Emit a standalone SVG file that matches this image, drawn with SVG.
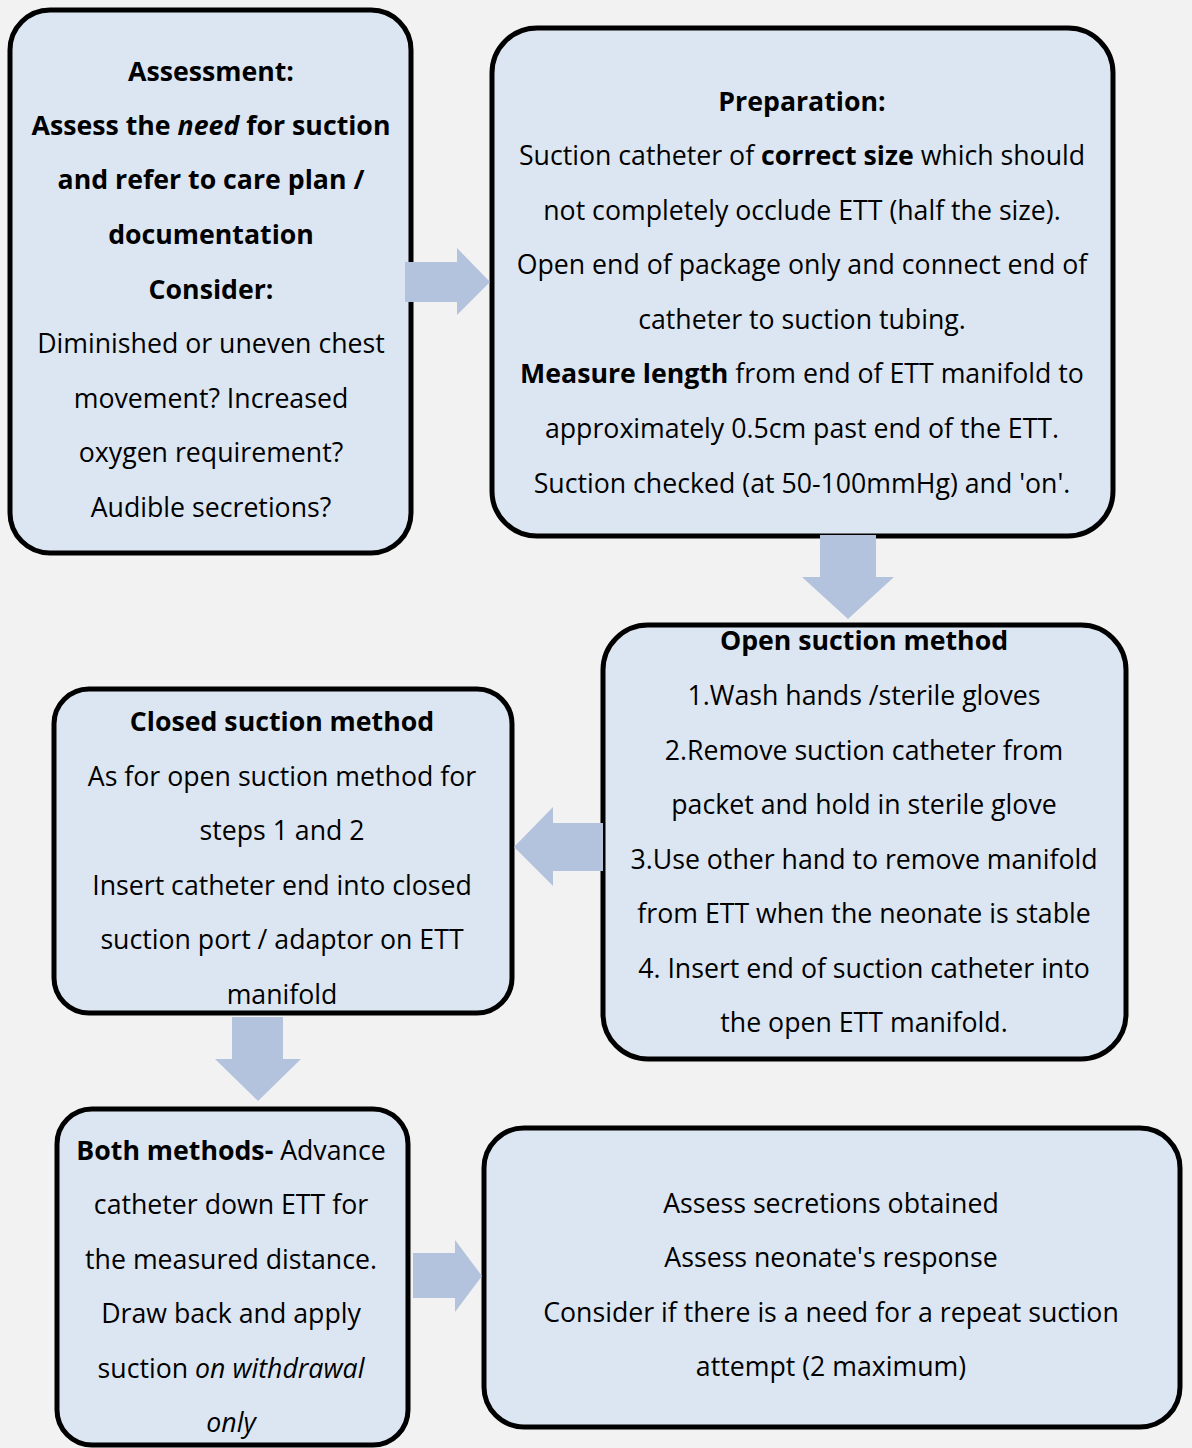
<svg xmlns="http://www.w3.org/2000/svg" width="1192" height="1448" viewBox="0 0 1192 1448">
<style>
.box{fill:#dce6f2;stroke:#000;stroke-width:5}
.arr{fill:#b3c3de}
text{font-family:"Open Sans","Noto Sans","DejaVu Sans",sans-serif;font-size:26.7px;fill:#000;text-anchor:middle}
.b{font-weight:bold}
.i{font-style:italic}
</style>
<rect width="1192" height="1448" fill="#f2f2f2"/>
<g id="assessment">
<rect class="box" x="10" y="10" width="401" height="543" rx="40"/>
<text x="211" y="81" class="b">Assessment:</text>
<text x="211" y="135" class="b">Assess the <tspan class="i">need</tspan> for suction</text>
<text x="211" y="189" class="b">and refer to care plan /</text>
<text x="211" y="244" class="b">documentation</text>
<text x="211" y="299" class="b">Consider:</text>
<text x="211" y="353">Diminished or uneven chest</text>
<text x="211" y="408">movement? Increased</text>
<text x="211" y="462">oxygen requirement?</text>
<text x="211" y="517">Audible secretions?</text>
</g>
<g id="preparation">
<rect class="box" x="492" y="28" width="621" height="508" rx="45"/>
<text x="802" y="111" class="b">Preparation:</text>
<text x="802" y="165">Suction catheter of <tspan class="b">correct size</tspan> which should</text>
<text x="802" y="220">not completely occlude ETT (half the size).</text>
<text x="802" y="274">Open end of package only and connect end of</text>
<text x="802" y="329">catheter to suction tubing.</text>
<text x="802" y="383"><tspan class="b">Measure length</tspan> from end of ETT manifold to</text>
<text x="802" y="438">approximately 0.5cm past end of the ETT.</text>
<text x="802" y="493">Suction checked (at 50-100mmHg) and 'on'.</text>
</g>
<g id="open-suction">
<rect class="box" x="603" y="625" width="523" height="434" rx="45"/>
<text x="864" y="650" class="b">Open suction method</text>
<text x="864" y="705">1.Wash hands /sterile gloves</text>
<text x="864" y="760">2.Remove suction catheter from</text>
<text x="864" y="814">packet and hold in sterile glove</text>
<text x="864" y="869">3.Use other hand to remove manifold</text>
<text x="864" y="923">from ETT when the neonate is stable</text>
<text x="864" y="978">4. Insert end of suction catheter into</text>
<text x="864" y="1032">the open ETT manifold.</text>
</g>
<g id="closed-suction">
<rect class="box" x="54" y="689" width="458" height="324" rx="35"/>
<text x="282" y="731" class="b">Closed suction method</text>
<text x="282" y="786">As for open suction method for</text>
<text x="282" y="840">steps 1 and 2</text>
<text x="282" y="895">Insert catheter end into closed</text>
<text x="282" y="949">suction port / adaptor on ETT</text>
<text x="282" y="1004">manifold</text>
</g>
<g id="both-methods">
<rect class="box" x="57" y="1109" width="351" height="336" rx="35"/>
<text x="231" y="1160"><tspan class="b">Both methods-</tspan> Advance</text>
<text x="231" y="1214">catheter down ETT for</text>
<text x="231" y="1269">the measured distance.</text>
<text x="231" y="1323">Draw back and apply</text>
<text x="231" y="1378">suction <tspan class="i">on withdrawal</tspan></text>
<text x="231" y="1432" class="i">only</text>
</g>
<g id="assess-response">
<rect class="box" x="484" y="1128" width="696" height="299" rx="40"/>
<text x="831" y="1213">Assess secretions obtained</text>
<text x="831" y="1267">Assess neonate's response</text>
<text x="831" y="1322">Consider if there is a need for a repeat suction</text>
<text x="831" y="1376">attempt (2 maximum)</text>
</g>
<g id="connectors">
<polygon class="arr" points="405,262 457,262 457,248 490,282 457,315 457,302 405,302"/>
<polygon class="arr" points="820,535 876,535 876,577 894,577 848,619 802,577 820,577"/>
<polygon class="arr" points="603,823 553,823 553,807 514,847 553,886 553,871 603,871"/>
<polygon class="arr" points="232,1017 283,1017 283,1059 301,1059 258,1101 215,1059 232,1059"/>
<polygon class="arr" points="413,1253 455,1253 455,1240 482,1276 455,1312 455,1298 413,1298"/>
</g>
</svg>
